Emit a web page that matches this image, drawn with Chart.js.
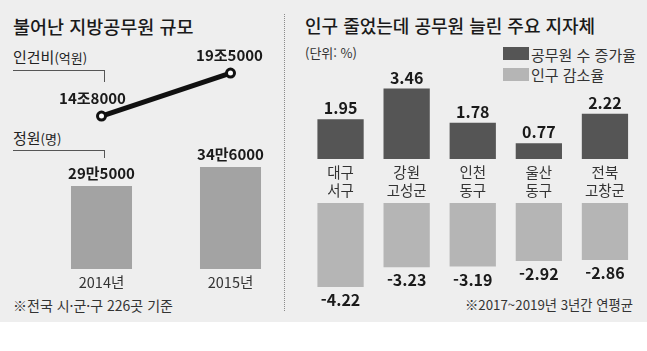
<!DOCTYPE html>
<html lang="ko">
<head>
<meta charset="utf-8">
<script src="https://cdn.jsdelivr.net/npm/chart.js@4.4.1/dist/chart.umd.min.js"></script>
<style>
body{margin:0;width:647px;height:351px;background:#fff;position:relative;overflow:hidden;font-family:"Noto Sans CJK KR",sans-serif;color:#222}
#bg{position:absolute;left:0;top:0;width:647px;height:322px;background:#eeeeee}
canvas{position:absolute;left:0;top:0}
.t{position:absolute;white-space:nowrap;line-height:1}
.ln{position:absolute;background:#555}
.box{position:absolute;width:26px;height:13px}
</style>
</head>
<body>
<div id="bg"></div>
<div style="position:absolute;left:284px;top:14px;height:297px;border-left:1px dotted #8a8a8a"></div>

<div class="t" style="left:13px;top:17px;font-size:18.5px;font-weight:500;color:#1a1a1a">불어난 지방공무원 규모</div>
<div class="t" style="left:305px;top:16px;font-size:18px;font-weight:500;color:#1a1a1a">인구 줄었는데 공무원 늘린 주요 지자체</div>

<div class="t" style="left:13px;top:49px;font-size:15px">인건비<span style="font-size:13px">(억원)</span></div>
<div class="ln" style="left:13px;top:70px;width:92px;height:1px"></div>
<div class="ln" style="left:104px;top:70px;width:1px;height:12px"></div>
<div class="t" style="left:13px;top:130px;font-size:15px">정원<span style="font-size:13px">(명)</span></div>
<div class="ln" style="left:13px;top:150px;width:92px;height:1px"></div>
<div class="ln" style="left:104px;top:150px;width:1px;height:8px"></div>

<div class="t" style="left:305px;top:46px;font-size:13px;color:#333">(단위: %)</div>
<div class="box" style="left:503px;top:47px;background:#555555"></div>
<div class="t" style="left:531px;top:47px;font-size:15px;color:#333">공무원 수 증가율</div>
<div class="box" style="left:503px;top:68px;background:#b5b5b5"></div>
<div class="t" style="left:531px;top:67px;font-size:15px;color:#333">인구 감소율</div>

<div class="t" style="left:13px;top:298px;font-size:14px;color:#333">※전국 시·군·구 226곳 기준</div>
<div class="t" style="right:14px;top:298px;font-size:13.3px;color:#333">※2017~2019년 3년간 연평균</div>

<canvas id="leftChart" width="647" height="351"></canvas>
<canvas id="growthChart" width="647" height="351"></canvas>
<canvas id="declineChart" width="647" height="351"></canvas>

<script>
// 왼쪽: 지방공무원 규모
const years = ["2014년", "2015년"];
const laborCost = [148000, 195000]; // 억원
const staff = [295000, 346000];     // 명

// 오른쪽: 주요 지자체 (2017~2019년 연평균, %)
const regions = [["대구", "서구"], ["강원", "고성군"], ["인천", "동구"], ["울산", "동구"], ["전북", "고창군"]];
const staffGrowth = [1.95, 3.46, 1.78, 0.77, 2.22];
const popDecline = [-4.22, -3.23, -3.19, -2.92, -2.86];

const FONT = '"Noto Sans CJK KR", sans-serif';

function korUnit(unit) {
  return v => Math.floor(v / 10000) + unit + (v % 10000);
}

const valueLabels = {
  id: "valueLabels",
  afterDatasetsDraw(chart) {
    const ctx = chart.ctx;
    chart.data.datasets.forEach((ds, i) => {
      if (!ds.labelFmt) return;
      chart.getDatasetMeta(i).data.forEach((el, j) => {
        const v = ds.data[j];
        const p = el.tooltipPosition();
        const dx = ds.labelDx ? ds.labelDx[j] : 0;
        ctx.save();
        ctx.font = ds.labelFont;
        ctx.fillStyle = "#1a1a1a";
        ctx.textAlign = "center";
        ctx.textBaseline = "middle";
        ctx.fillText(ds.labelFmt(v), p.x + dx, v >= 0 ? p.y - ds.labelGap : p.y + ds.labelGap);
        ctx.restore();
      });
    });
  }
};

const base = {
  responsive: false,
  animation: false,
  devicePixelRatio: 1,
  events: [],
  plugins: {legend: {display: false}, tooltip: {enabled: false}}
};

new Chart(document.getElementById("leftChart"), {
  type: "bar",
  data: {
    labels: years,
    datasets: [
      {type: "line", data: laborCost, yAxisID: "y1", order: 0, borderColor: "#111", borderWidth: 5,
       pointRadius: 4, pointBorderWidth: 3, pointBackgroundColor: "#fff", pointBorderColor: "#111",
       labelFmt: korUnit("조"), labelGap: 18, labelDx: [-9, -1], labelFont: "bold 15px " + FONT},
      {data: staff, yAxisID: "y", order: 1, backgroundColor: "#a3a3a3", barPercentage: 0.473, categoryPercentage: 1,
       labelFmt: korUnit("만"), labelGap: 13, labelFont: "bold 15px " + FONT}
    ]
  },
  options: Object.assign({}, base, {
    layout: {padding: {left: 37, right: 352, top: 40, bottom: 54.6}},
    scales: {
      x: {offset: true, grid: {display: false, drawTicks: false}, border: {display: false},
          ticks: {padding: 5, color: "#333", font: {family: FONT, size: 14.5, lineHeight: 1.2}}},
      y: {display: false, min: 72000, max: 687000},
      y1: {display: false, min: -19200, max: 231100}
    }
  }),
  plugins: [valueLabels]
});

new Chart(document.getElementById("growthChart"), {
  type: "bar",
  data: {
    labels: regions,
    datasets: [{data: staffGrowth, backgroundColor: "#555555", barPercentage: 0.7, categoryPercentage: 1,
                labelFmt: v => v.toFixed(2), labelGap: 11, labelFont: "bold 16px " + FONT}]
  },
  options: Object.assign({}, base, {
    layout: {padding: {left: 307.5, right: 9, top: 80, bottom: 148}},
    scales: {
      x: {grid: {display: false, drawTicks: false}, border: {display: false},
          ticks: {padding: 4, color: "#333", font: {family: FONT, size: 14.5, lineHeight: "18px"}}},
      y: {display: false, min: 0, max: 3.873}
    }
  }),
  plugins: [valueLabels]
});

new Chart(document.getElementById("declineChart"), {
  type: "bar",
  data: {
    labels: regions.map(r => r.join(" ")),
    datasets: [{data: popDecline, backgroundColor: "#b5b5b5", barPercentage: 0.7, categoryPercentage: 1,
                labelFmt: v => v.toFixed(2), labelGap: 13, labelFont: "bold 16px " + FONT}]
  },
  options: Object.assign({}, base, {
    layout: {padding: {left: 307.5, right: 9, top: 203, bottom: 61}},
    scales: {
      x: {display: false},
      y: {display: false, min: -4.372, max: 0}
    }
  }),
  plugins: [valueLabels]
});
</script>
</body>
</html>
